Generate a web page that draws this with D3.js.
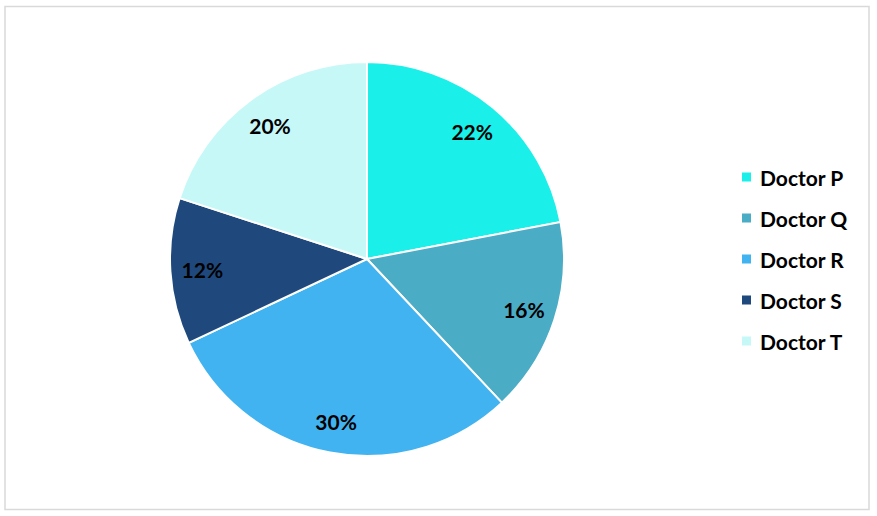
<!DOCTYPE html>
<html><head><meta charset="utf-8">
<script src="https://cdn.jsdelivr.net/npm/d3@7"></script>
<style>body{margin:0;background:#fff}</style>
</head><body>
<svg id="c" width="877" height="516"></svg>
<script>
const categories = ["Doctor P","Doctor Q","Doctor R","Doctor S","Doctor T"];
const values = [22,16,30,12,20];
const colors = ["#1AF0E9","#4BACC6","#41B3F0","#1F497D","#C6F8F8"];

const svg = d3.select("#c");
svg.append("rect").attr("x",5).attr("y",6.5).attr("width",864).attr("height",503)
  .attr("fill","#fff").attr("stroke","#D9D9D9").attr("stroke-width",1.5);

const cx = 367, cy = 259, R = 197;
const g = svg.append("g").attr("transform",`translate(${cx},${cy})`);
const pie = d3.pie().sort(null).value(d=>d);
const arcs = pie(values);
const arc = d3.arc().innerRadius(0).outerRadius(R);
const labelArc = d3.arc().innerRadius(165).outerRadius(165);
const color = d3.scaleOrdinal().domain(categories).range(colors);

g.selectAll("path").data(arcs).join("path")
  .attr("d",arc).attr("fill",(d,i)=>color(categories[i]))
  .attr("stroke","#fff").attr("stroke-width",2);

g.selectAll("text").data(arcs).join("text")
  .attr("transform",d=>`translate(${labelArc.centroid(d)})`)
  .attr("text-anchor","middle").attr("dominant-baseline","central")
  .attr("font-family","Lato, 'Open Sans', sans-serif").attr("font-weight","bold")
  .attr("font-size",21).attr("fill","#000")
  .text(d=>d.data+"%");

const leg = svg.append("g");
const ly = d3.scalePoint().domain(categories).range([177,341]);
categories.forEach((c,i)=>{
  leg.append("rect").attr("x",742).attr("y",ly(c)-4.5).attr("width",9).attr("height",9).attr("fill",color(c));
  leg.append("text").attr("x",760).attr("y",ly(c)).attr("dominant-baseline","central")
    .attr("font-family","Lato, 'Open Sans', sans-serif").attr("font-weight","bold")
    .attr("font-size",21).attr("fill","#000").text(c);
});
</script>
</body></html>
